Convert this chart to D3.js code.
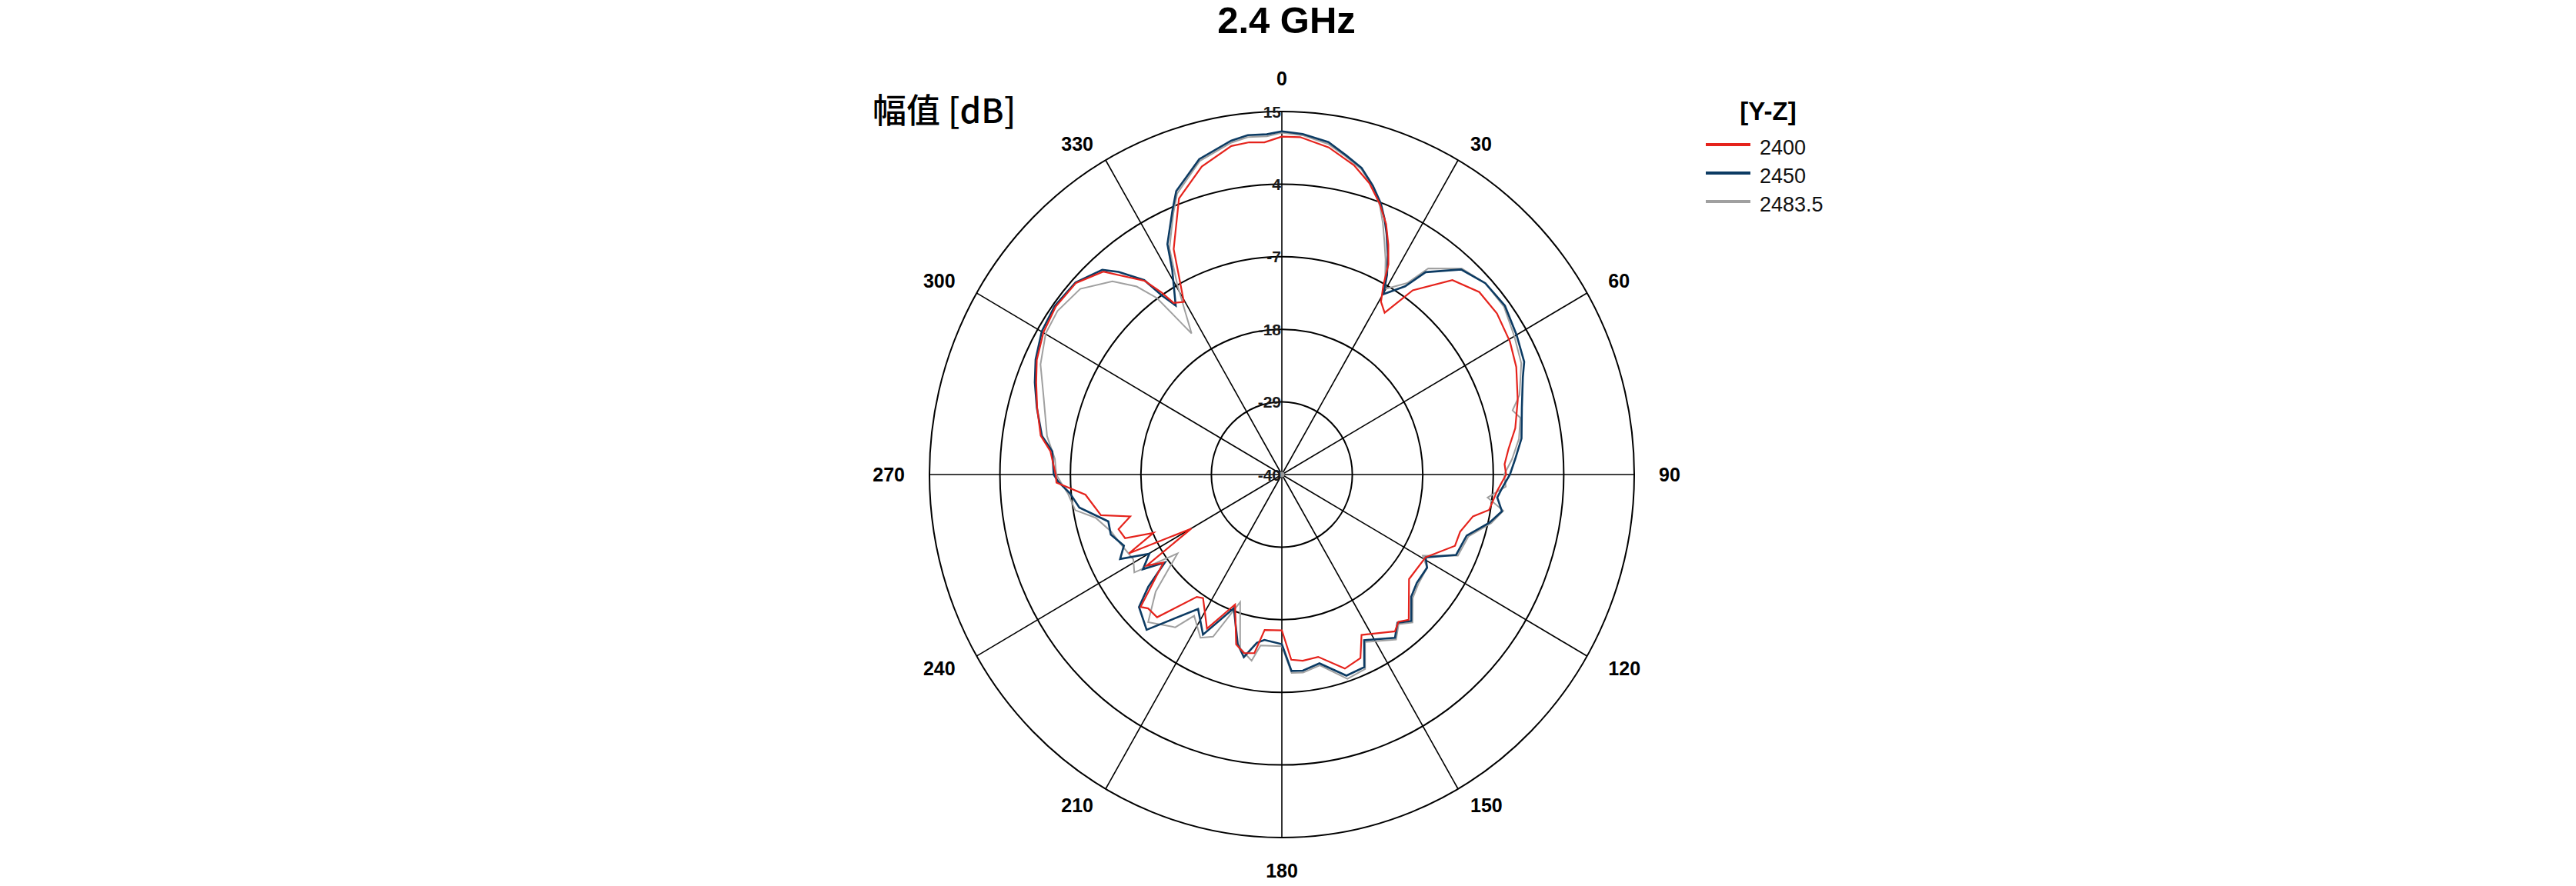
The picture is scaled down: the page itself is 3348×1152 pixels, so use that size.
<!DOCTYPE html>
<html>
<head>
<meta charset="utf-8">
<script src="https://cdn.jsdelivr.net/npm/d3@7"></script>
<style>
  html, body { margin: 0; padding: 0; background: #fff; }
  svg { display: block; }
</style>
</head>
<body>
<script>
// ---------------- DATA ----------------
const chartTitle = "2.4 GHz";
const axisTitle = "幅值 [dB]";
const legendTitle = "[Y-Z]";
const seriesNames = ["2400", "2450", "2483.5"];
const angleTicks = [0, 30, 60, 90, 120, 150, 180, 210, 240, 270, 300, 330];
const radialTicks = [15, 4, -7, -18, -29, -40];

// [angle (deg), gain (dB)]
const s2400 = [
  [0, 11.2], [3.2, 11.2], [8.4, 10.1], [13.5, 8.2], [17.2, 6.2], [20.4, 3.8], [23.2, 1.3],
  [25.5, -1.4], [27.6, -4.1], [28.9, -7.2], [30.6, -9.6], [33.2, -10.7], [36.2, -5.4],
  [42.1, -0.3], [48.1, 1.4], [54.0, 1.5], [60.5, 0.9], [66.0, 0.05], [73.0, -1.5],
  [79.1, -2.9], [83.7, -4.4], [87.4, -5.2], [90, -5.0], [94.2, -6.3], [99.4, -7.2],
  [102, -9.5], [107.3, -10.85], [111.8, -10.9], [119.2, -14.3], [128.6, -14.6],
  [138, -10.4], [140.8, -11.2], [143.4, -10.4], [152.9, -12.7], [156.2, -9.6],
  [161.5, -9.0], [168.4, -11.8], [173.4, -11.6], [177, -11.9], [180, -16.4],
  [186.5, -16.3], [189, -12.6], [192.3, -12.3], [195.5, -13.3], [200.35, -19.0],
  [206.6, -13.9], [213.3, -17.6], [215.6, -17.2], [222, -10.9], [225.8, -10.9],
  [227.7, -10.2], [234.2, -17.2], [236.8, -14.8], [239.9, -23.7], [243.4, -13.3],
  [246.2, -18.1], [248.5, -13.7], [252, -13.2], [255, -15.5], [257.7, -11.1],
  [264.3, -9.2], [268, -4.8], [270, -4.7], [275.6, -3.7], [278.9, -1.9], [284.8, -0.5],
  [290, 0.8], [294.4, 2.0], [300.1, 3.0], [305.8, 3.5], [312.1, 3.3], [317.8, 1.5],
  [323.9, -3.7], [325.8, -6.7], [327, -9.0], [329.7, -9.7], [333.7, -1.9], [339, 4.8],
  [345, 8.3], [351, 10.4], [354.2, 10.6], [356.9, 10.4], [360, 11.2]
];

const s2450 = [
  [0, 12.0], [3.6, 11.7], [8.2, 10.9], [11.7, 9.4], [15.0, 8.1], [18.0, 6.0], [20.6, 3.9],
  [22.5, 1.9], [24.2, -0.1], [26.4, -2.8], [28.5, -5.6], [30.1, -8.4], [34.0, -5.6],
  [36.2, -2.0], [42.0, 1.8], [47.6, 3.0], [53.7, 3.2], [60.0, 2.3], [65.7, 1.5],
  [68.6, 0.4], [74.9, -1.2], [81.7, -2.2], [86.3, -3.5], [90, -4.4], [93.2, -5.5],
  [95.9, -6.2], [99.2, -5.2], [102.7, -6.8], [107.8, -9.7], [114.1, -10.2],
  [119.2, -14.3], [121.9, -13.3], [127.9, -13.3], [132.5, -12.6], [137.7, -10.0],
  [141.2, -11.2], [144.5, -9.6], [152.9, -11.8], [156.2, -8.1], [161.7, -7.9],
  [168.4, -10.8], [173.7, -10.1], [177.1, -10.2], [180, -14.3], [186.2, -14.8],
  [188.7, -14.2], [192.1, -11.7], [195, -13.4], [200.3, -18.4], [206.9, -12.8],
  [212.7, -15.8], [221.9, -8.4], [228, -10.0], [230.8, -13.1], [233.9, -17.4],
  [236.5, -14.0], [239.9, -16.1], [243.1, -11.7], [246.4, -13.1], [251.2, -11.8],
  [255.3, -12.0], [261.0, -8.0], [265.1, -6.8], [268.2, -5.1], [270, -4.4],
  [275.6, -4.0], [278.9, -2.1], [284.8, -0.45], [289.9, 1.0], [294.4, 2.2],
  [300.1, 3.3], [305.8, 3.7], [312.1, 3.4], [317.9, 1.8], [320.3, -0.1], [323.9, -3.55],
  [325.4, -7.1], [327.1, -9.5], [331.1, -4.6], [332.9, -0.8], [336.8, 3.4], [339, 6.0],
  [344.9, 9.5], [351.1, 11.2], [354.1, 11.7], [357.4, 11.6], [360, 12.0]
];

const s2483 = [
  [0, 11.8], [3.6, 11.5], [8.2, 10.6], [11.7, 9.2], [15, 7.9], [18, 5.8], [20.6, 3.5],
  [22.5, 1.2], [24.2, -1.0], [26.4, -3.6], [28.5, -6.2], [30.0, -7.5], [34, -5.0],
  [36.2, -1.3], [42, 2.0], [47.6, 3.0], [53.7, 3.0], [60, 1.9], [65.7, 1.0], [68.6, 0.0],
  [72, -1.0], [74.9, -2.7], [77, -1.8], [81.7, -2.6], [86.3, -4.0], [90, -5.3],
  [93, -5.0], [96.2, -7.7], [99, -5.0], [102.7, -6.5], [107.8, -9.4], [114.1, -9.9],
  [119.2, -14.8], [121.9, -13.3], [127.9, -13.0], [132.5, -12.3], [137.7, -9.7],
  [141.2, -10.9], [144.5, -9.3], [152.9, -11.5], [156.2, -7.8], [161.7, -7.4],
  [168.4, -10.5], [173.7, -9.8], [177.1, -9.9], [180, -14.0], [187.3, -13.9],
  [189.5, -11.4], [193.9, -12.9], [198.6, -19.6], [203.6, -13.2], [207.2, -12.2],
  [212.6, -14.6], [215.7, -11.5], [223, -9.4], [228, -13.5], [233.7, -19.8],
  [237.2, -12.6], [241, -13.5], [248.1, -12.6], [252, -12.0], [257.3, -10.2],
  [260.5, -7.3], [265, -6.5], [268, -5.5], [270, -4.8], [273.8, -4.5], [279, -2.9],
  [287.9, -0.9], [293.9, 1.2], [300.1, 2.6], [305.3, 2.9], [311.8, 2.2], [317.9, -0.55],
  [321.5, -3.6], [323.9, -6.9], [326.6, -14.4], [330.4, -7.0], [332.9, -1.5],
  [336.8, 3.0], [339, 5.6], [344.9, 9.2], [351.1, 10.9], [354.1, 11.4], [357.4, 11.3],
  [360, 11.8]
];

const seriesData = [s2400, s2450, s2483];
const seriesColors = ["#e5231c", "#0c3b63", "#a0a0a0"];
const seriesWidths = [2.2, 2.6, 2.0];

// ---------------- LAYOUT ----------------
const W = 3348, H = 1152;
const cx = 1666, cy = 617;
const RX = 458, RY = 472;
const latin = "'Liberation Sans', Arial, Helvetica, sans-serif";

const svg = d3.select("body").append("svg")
  .attr("width", W).attr("height", H)
  .attr("viewBox", `0 0 ${W} ${H}`);
svg.append("rect").attr("width", W).attr("height", H).attr("fill", "#fff");

const r = d3.scaleLinear().domain([-40, 15]).range([0, 1]);
const ang = d3.scaleLinear().domain([0, 360]).range([0, 2 * Math.PI]);
const px = (a, v) => cx + RX * r(v) * Math.sin(ang(a));
const py = (a, v) => cy - RY * r(v) * Math.cos(ang(a));

const grid = svg.append("g");
// rings
grid.selectAll("ellipse.ring").data(radialTicks.filter(t => t > -40)).join("ellipse")
  .attr("class", "ring")
  .attr("cx", cx).attr("cy", cy)
  .attr("rx", d => RX * r(d)).attr("ry", d => RY * r(d))
  .attr("fill", "none").attr("stroke", "#000").attr("stroke-width", 2);
// spokes
grid.selectAll("line.spoke").data(angleTicks).join("line")
  .attr("class", "spoke")
  .attr("x1", cx).attr("y1", cy)
  .attr("x2", d => px(d, 15)).attr("y2", d => py(d, 15))
  .attr("stroke", "#000").attr("stroke-width", 1.6);

// angle labels
const capA = 25 * 0.716;
grid.selectAll("text.ang").data(angleTicks).join("text")
  .attr("class", "ang")
  .attr("font-family", latin).attr("font-weight", "bold").attr("font-size", 25)
  .attr("fill", "#000")
  .each(function (d) {
    const s = Math.sin(ang(d)), c = Math.cos(ang(d));
    const vert = Math.abs(s) < 0.01;
    const lx = cx + s * 490;
    const ly = cy - c * (vert ? 506 : 486);
    const anchor = s > 0.01 ? "start" : (s < -0.01 ? "end" : "middle");
    let by;
    if (c > 0.01) by = ly;
    else if (c < -0.01) by = ly + capA;
    else by = ly + capA / 2;
    d3.select(this).attr("x", lx).attr("y", by).attr("text-anchor", anchor).text(d);
  });

// center dot
grid.append("circle").attr("cx", cx).attr("cy", cy).attr("r", 3.5).attr("fill", "#999");

// radial labels
grid.selectAll("text.rad").data(radialTicks).join("text")
  .attr("class", "rad")
  .attr("font-family", latin).attr("font-size", 21).attr("font-weight", "bold")
  .attr("fill", "#1a1a1a")
  .attr("text-anchor", "end")
  .attr("x", cx - 1)
  .attr("y", d => py(0, d) + 7.5)
  .text(d => d);

// series
const line = d3.line().x(d => px(d[0], d[1])).y(d => py(d[0], d[1]));
const order = [2, 1, 0];
svg.append("g").selectAll("path").data(order).join("path")
  .attr("d", i => line(seriesData[i]))
  .attr("fill", "none")
  .attr("stroke", i => seriesColors[i])
  .attr("stroke-width", i => seriesWidths[i])
  .attr("stroke-linejoin", "miter");

// title
svg.append("text").attr("x", 1672).attr("y", 43)
  .attr("text-anchor", "middle")
  .attr("font-family", latin).attr("font-weight", "bold").attr("font-size", 49)
  .attr("fill", "#000").text(chartTitle);

// axis title
svg.append("text").attr("x", 1134).attr("y", 160)
  .attr("font-family", "'Noto Sans CJK SC', 'Noto Sans', sans-serif")
  .attr("font-size", 44).attr("font-weight", 500)
  .attr("fill", "#000").text(axisTitle);

// legend
const lg = svg.append("g");
lg.append("text").attr("x", 2298).attr("y", 156).attr("text-anchor", "middle")
  .attr("font-family", latin).attr("font-weight", "bold").attr("font-size", 33)
  .attr("fill", "#000").text(legendTitle);
const legY = [188, 225, 262];
seriesNames.forEach((name, i) => {
  lg.append("line").attr("x1", 2217).attr("x2", 2275)
    .attr("y1", legY[i]).attr("y2", legY[i])
    .attr("stroke", seriesColors[i]).attr("stroke-width", 4);
  lg.append("text").attr("x", 2287).attr("y", legY[i] + 13)
    .attr("font-family", latin).attr("font-size", 27).attr("fill", "#111").text(name);
});
</script>
</body>
</html>
